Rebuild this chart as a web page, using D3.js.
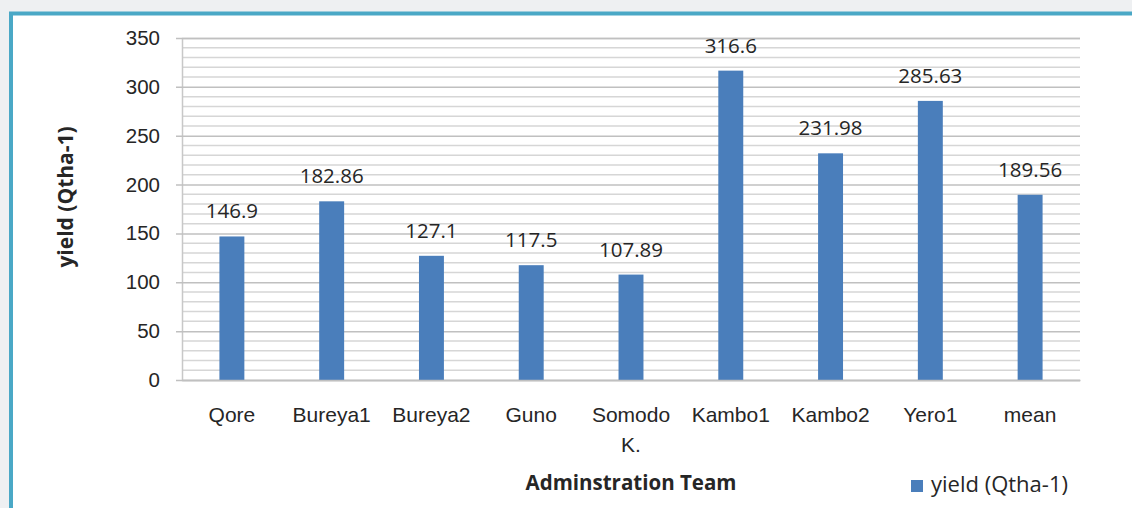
<!DOCTYPE html>
<html>
<head>
<meta charset="utf-8">
<script src="https://cdn.jsdelivr.net/npm/d3@7"></script>
<style>
  html, body { margin: 0; padding: 0; background: #eef0f2; }
  svg { display: block; font-family: "Open Sans", sans-serif; }
</style>
</head>
<body>
<svg id="chart" width="1132" height="508"></svg>
<script>
/* chart data */
const teams = ["Qore", "Bureya1", "Bureya2", "Guno", "Somodo K.", "Kambo1", "Kambo2", "Yero1", "mean"];
const yieldValues = [146.9, 182.86, 127.1, 117.5, 107.89, 316.6, 231.98, 285.63, 189.56];
const valueLabels = ["146.9", "182.86", "127.1", "117.5", "107.89", "316.6", "231.98", "285.63", "189.56"];
const yTicks = [0, 50, 100, 150, 200, 250, 300, 350];
const seriesName = "yield (Qtha-1)";
const xTitle = "Adminstration Team";
const yTitle = "yield (Qtha-1)";

const width = 1132, height = 508;
const margin = { left: 182, right: 52, top: 38, bottom: 128 };
const barColor = "#4a7ebb";

const svg = d3.select("#chart");

/* white panel with the teal frame on top and left */
svg.append("rect")
    .attr("x", 11).attr("y", 13)
    .attr("width", width - 11).attr("height", height - 13)
    .attr("fill", "#ffffff");
svg.append("path")
    .attr("d", `M11,${height} L11,13.5 L${width},13.5`)
    .attr("fill", "none")
    .attr("stroke", "#4aa8c6")
    .attr("stroke-width", 4);

/* scales */
const x = d3.scaleBand()
    .domain(teams)
    .range([margin.left, width - margin.right])
    .paddingInner(0.75)
    .paddingOuter(0.375);
const y = d3.scaleLinear()
    .domain([0, 350])
    .range([height - margin.bottom, margin.top]);

/* minor gridlines every 10 */
svg.append("g")
    .selectAll("line")
    .data(d3.range(10, 351, 10).filter(v => v % 50 !== 0))
    .join("line")
    .attr("x1", margin.left).attr("x2", width - margin.right)
    .attr("y1", d => y(d)).attr("y2", d => y(d))
    .attr("stroke", "#d6d6d6")
    .attr("stroke-width", 1.5);

/* y axis with major gridlines */
const yAxis = d3.axisLeft(y)
    .tickValues(yTicks)
    .tickSize(-(width - margin.left - margin.right))
    .tickPadding(22);
const gy = svg.append("g")
    .attr("transform", `translate(${margin.left},0)`)
    .call(yAxis);
gy.select(".domain").attr("stroke", "#c8c8c8").attr("stroke-width", 1.5);
gy.selectAll(".tick line")
    .attr("x1", -6)
    .attr("stroke", "#c0c0c0")
    .attr("stroke-width", 1.5);
gy.selectAll(".tick text")
    .attr("font-size", 20.5)
    .attr("fill", "#262626");

/* bars */
svg.append("g")
    .selectAll("rect")
    .data(yieldValues)
    .join("rect")
    .attr("x", (d, i) => x(teams[i]))
    .attr("width", x.bandwidth())
    .attr("y", d => y(d))
    .attr("height", d => y(0) - y(d))
    .attr("fill", barColor);

/* value labels */
svg.append("g")
    .selectAll("text")
    .data(yieldValues)
    .join("text")
    .attr("x", (d, i) => x(teams[i]) + x.bandwidth() / 2)
    .attr("y", d => y(d) - 18)
    .attr("text-anchor", "middle")
    .attr("font-size", 20.5)
    .attr("fill", "#262626")
    .text((d, i) => valueLabels[i]);

/* x axis */
const xAxis = d3.axisBottom(x).tickSize(0).tickPadding(0);
const gx = svg.append("g")
    .attr("transform", `translate(0,${y(0)})`)
    .call(xAxis);
gx.select(".domain").attr("stroke", "#c0c0c0").attr("stroke-width", 1.5);
gx.selectAll(".tick text")
    .attr("font-size", 21)
    .attr("fill", "#262626")
    .attr("y", 0)
    .attr("dy", null)
    .each(function(d) {
        const t = d3.select(this).text("");
        d.split(" ").forEach((w, k) => {
            t.append("tspan").attr("x", 0).attr("y", 42 + k * 30).text(w);
        });
    });

/* axis titles */
svg.append("text")
    .attr("x", (margin.left + width - margin.right) / 2)
    .attr("y", 490)
    .attr("text-anchor", "middle")
    .attr("font-size", 20.5)
    .attr("font-weight", "bold")
    .attr("fill", "#262626")
    .text(xTitle);
svg.append("text")
    .attr("transform", `translate(73,${(margin.top + y(0)) / 2 - 12}) rotate(-90)`)
    .attr("text-anchor", "middle")
    .attr("font-size", 21)
    .attr("font-weight", "bold")
    .attr("fill", "#262626")
    .text(yTitle);

/* legend */
const legend = svg.append("g").attr("transform", "translate(911,480)");
legend.append("rect")
    .attr("width", 12).attr("height", 12)
    .attr("fill", barColor);
legend.append("text")
    .attr("x", 20).attr("y", 12)
    .attr("font-size", 22)
    .attr("fill", "#262626")
    .text(seriesName);
</script>
</body>
</html>
